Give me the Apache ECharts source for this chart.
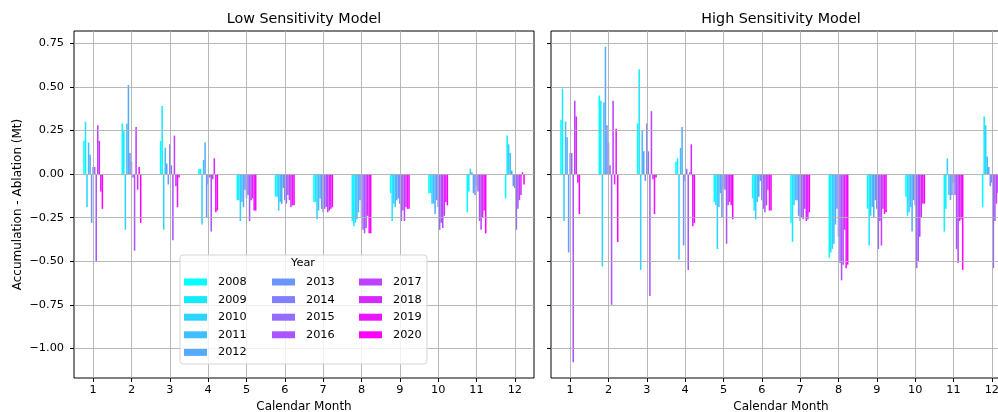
<!DOCTYPE html>
<html>
<head>
<meta charset="utf-8">
<script src="https://cdn.jsdelivr.net/npm/echarts@6/dist/echarts.min.js"></script>
<style>
  html, body { margin: 0; padding: 0; background: #fff; }
  #chart { width: 998px; height: 412px; }
</style>
</head>
<body>
<div id="chart"></div>
<script>
// months on the x axis, one bar per year inside each month
const months = ['1', '2', '3', '4', '5', '6', '7', '8', '9', '10', '11', '12'];
const years = ['2008', '2009', '2010', '2011', '2012', '2013', '2014', '2015', '2016', '2017', '2018', '2019', '2020'];
const yTicks = [-1.0, -0.75, -0.5, -0.25, 0.0, 0.25, 0.5, 0.75];

// Low Sensitivity Model, values per year (Jan..Dec)
const low2008 = [0.19, 0.29, 0.19, 0.03, -0.15, -0.13, -0.16, -0.27, -0.11, -0.11, -0.22, -0.14];
const low2009 = [0.30, 0.25, 0.39, 0.03, -0.15, -0.13, -0.16, -0.30, -0.27, -0.11, -0.10, 0.22];
const low2010 = [-0.19, -0.32, -0.32, -0.29, -0.27, -0.21, -0.26, -0.28, -0.17, -0.17, 0.03, 0.17];
const low2011 = [0.18, 0.29, 0.15, 0.08, -0.16, -0.16, -0.21, -0.26, -0.19, -0.17, 0.01, 0.12];
const low2012 = [0.11, 0.51, 0.06, 0.18, -0.19, -0.17, -0.14, -0.22, -0.15, -0.23, -0.11, 0.02];
const low2013 = [-0.28, 0.12, -0.06, -0.25, -0.09, -0.08, -0.20, -0.15, -0.14, -0.15, -0.12, -0.07];
const low2014 = [0.04, 0.07, 0.17, -0.06, -0.14, -0.15, -0.22, -0.25, -0.17, -0.19, -0.07, -0.08];
const low2015 = [0.04, -0.02, 0.05, -0.02, -0.12, -0.17, -0.20, -0.32, -0.27, -0.32, -0.10, -0.32];
const low2016 = [-0.50, -0.44, -0.38, -0.33, -0.27, -0.12, -0.19, -0.34, -0.21, -0.28, -0.27, -0.20];
const low2017 = [0.28, 0.27, 0.22, -0.03, -0.15, -0.15, -0.22, -0.31, -0.27, -0.31, -0.32, -0.15];
const low2018 = [0.19, -0.09, -0.07, 0.09, -0.14, -0.19, -0.21, -0.24, -0.19, -0.24, -0.25, -0.12];
const low2019 = [-0.10, 0.04, -0.19, -0.22, -0.21, -0.18, -0.20, -0.34, -0.20, -0.16, -0.21, 0.01];
const low2020 = [-0.20, -0.28, -0.02, -0.21, -0.21, -0.18, -0.19, -0.34, -0.20, -0.18, -0.34, -0.06];

// High Sensitivity Model
const high2008 = [0.31, 0.45, 0.29, 0.07, -0.16, -0.14, -0.28, -0.48, -0.20, -0.13, -0.33, -0.19];
const high2009 = [0.49, 0.42, 0.60, 0.09, -0.18, -0.21, -0.39, -0.45, -0.41, -0.24, -0.20, 0.33];
const high2010 = [-0.27, -0.53, -0.55, -0.49, -0.43, -0.26, -0.18, -0.43, -0.24, -0.22, 0.09, 0.28];
const high2011 = [0.30, 0.41, 0.25, 0.15, -0.19, -0.16, -0.15, -0.40, -0.19, -0.19, -0.12, 0.10];
const high2012 = [0.21, 0.73, 0.13, 0.27, -0.11, -0.13, -0.15, -0.29, -0.25, -0.33, -0.15, 0.04];
const high2013 = [-0.45, 0.28, -0.04, -0.41, -0.25, -0.04, -0.24, -0.20, -0.15, -0.15, -0.12, -0.07];
const high2014 = [0.12, 0.18, 0.29, -0.04, -0.08, -0.15, -0.27, -0.36, -0.20, -0.18, -0.05, -0.05];
const high2015 = [0.12, 0.05, 0.13, 0.03, -0.09, -0.20, -0.25, -0.51, -0.43, -0.54, -0.12, -0.54];
const high2016 = [-1.08, -0.75, -0.70, -0.55, -0.40, -0.22, -0.26, -0.61, -0.27, -0.50, -0.43, -0.27];
const high2017 = [0.42, 0.42, 0.36, 0.01, -0.18, -0.18, -0.20, -0.52, -0.41, -0.36, -0.51, -0.17];
const high2018 = [0.33, -0.06, -0.03, 0.17, -0.16, -0.09, -0.27, -0.32, -0.20, -0.25, -0.27, -0.11];
const high2019 = [-0.05, 0.26, -0.23, -0.30, -0.18, -0.21, -0.26, -0.54, -0.23, -0.17, -0.26, 0.10];
const high2020 = [-0.23, -0.39, -0.02, -0.28, -0.26, -0.21, -0.22, -0.52, -0.22, -0.17, -0.55, -0.08];

const lowSeries = [low2008, low2009, low2010, low2011, low2012, low2013, low2014, low2015, low2016, low2017, low2018, low2019, low2020];
const highSeries = [high2008, high2009, high2010, high2011, high2012, high2013, high2014, high2015, high2016, high2017, high2018, high2019, high2020];

const font = 'DejaVu Sans';
const gridColor = '#b0b0b0';

// matplotlib 'cool' colormap: cyan -> magenta
function coolColor (i) {
  const r = Math.round(255 * i / (years.length - 1));
  return 'rgb(' + r + ',' + (255 - r) + ',255)';
}

function fmt (v) {
  return (v < 0 ? '\u2212' : '') + Math.abs(v).toFixed(2);
}

const panels = [
  { left: 74, center: 304, title: 'Low Sensitivity Model', data: lowSeries },
  { left: 551, center: 781, title: 'High Sensitivity Model', data: highSeries }
];

const chart = echarts.init(document.getElementById('chart'));

const series = [];
panels.forEach((p, g) => {
  p.data.forEach((vals, i) => {
    series.push({
      type: 'bar',
      name: years[i],
      xAxisIndex: g,
      yAxisIndex: g,
      data: vals,
      barWidth: '4%',
      barGap: '0%',
      itemStyle: { color: coolColor(i) }
    });
  });
});

const legendCols = [years.slice(0, 5), years.slice(5, 9), years.slice(9)];
const legendLeft = [184, 272, 359];

chart.setOption({
  animation: false,
  textStyle: { fontFamily: font },
  grid: panels.map(p => ({
    left: p.left, top: 31, width: 460, height: 347,
    outerBoundsMode: 'none',
    containLabel: false,
    show: true, borderColor: '#000', borderWidth: 1
  })),
  xAxis: panels.map((p, g) => ({
    type: 'category',
    gridIndex: g,
    data: months,
    z: 3,
    axisLine: { show: false, onZero: false },
    axisTick: { show: true, alignWithLabel: true, length: 4, lineStyle: { color: '#000' } },
    axisLabel: { fontSize: 11.3, color: '#000', margin: 7, fontFamily: font },
    splitLine: { show: true, alignWithLabel: true, lineStyle: { color: gridColor, width: 0.9 } },
    name: 'Calendar Month',
    nameLocation: 'middle',
    nameGap: 23,
    nameTextStyle: { fontSize: 12, color: '#000', fontFamily: font }
  })),
  yAxis: panels.map((p, g) => ({
    type: 'value',
    gridIndex: g,
    min: -1.17,
    max: 0.82,
    z: 3,
    axisLine: { show: false },
    axisTick: { show: true, length: 4, customValues: yTicks, lineStyle: { color: '#000' } },
    axisLabel: { show: g === 0, customValues: yTicks, formatter: fmt, fontSize: 11.3, color: '#000', margin: 10, fontFamily: font },
    splitLine: { show: true, lineStyle: { color: gridColor, width: 0.9 } },
    name: g === 0 ? 'Accumulation - Ablation (Mt)' : '',
    nameLocation: 'middle',
    nameGap: 50,
    nameTextStyle: { fontSize: 12, color: '#000', fontFamily: font }
  })),
  legend: legendCols.map((col, c) => ({
    data: col,
    orient: 'vertical',
    left: legendLeft[c],
    top: 275,
    padding: 0,
    z: 10,
    icon: 'rect',
    itemWidth: 23,
    itemHeight: 7,
    itemGap: 3.6,
    selectedMode: false,
    textStyle: { fontSize: 11.3, lineHeight: 14, color: '#000', fontFamily: font, padding: [0, 0, 0, 6] }
  })),
  graphic: [
    {
      type: 'rect', z: 9,
      shape: { x: 180, y: 255, width: 247, height: 109, r: 3 },
      style: { fill: 'rgba(255,255,255,0.8)', stroke: '#d5d5d5', lineWidth: 1 }
    },
    {
      type: 'text', z: 10, x: 303, y: 263,
      style: { text: 'Year', font: '11.3px "DejaVu Sans"', fill: '#000', align: 'center', verticalAlign: 'middle', textAlign: 'center', textVerticalAlign: 'middle' }
    }
  ].concat(panels.map(p => ({
    type: 'text', x: p.center, y: 19,
    style: { text: p.title, font: '14.3px "DejaVu Sans"', fill: '#000', align: 'center', verticalAlign: 'middle', textAlign: 'center', textVerticalAlign: 'middle' }
  }))),
  series: series
});
</script>
</body>
</html>
